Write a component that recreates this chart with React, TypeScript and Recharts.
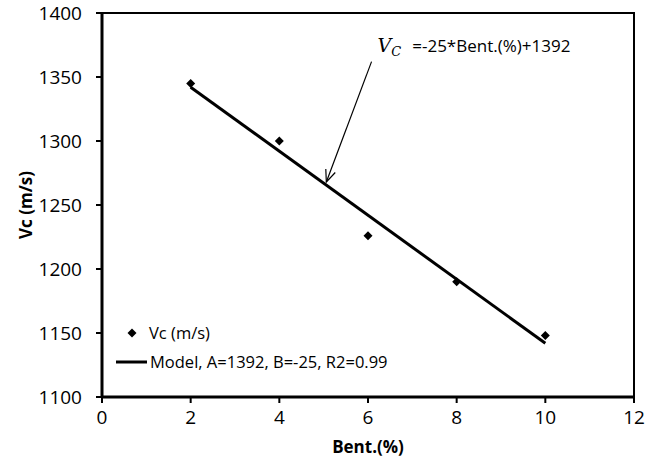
import React from 'react';
import {
  ScatterChart,
  Scatter,
  XAxis,
  YAxis,
  ReferenceLine,
  ReferenceArea,
  Label,
} from 'recharts';

// measured points
const bentValues = [2, 4, 6, 8, 10];
const vcValues = [1345, 1300, 1226, 1190, 1148];

// fitted model endpoints (A=1392, B=-25)
const modelBent = [2, 10];
const modelVc = [1342, 1142];

const xTicks = [0, 2, 4, 6, 8, 10, 12];
const yTicks = [1100, 1150, 1200, 1250, 1300, 1350, 1400];

// arrow from equation text down to the line
const arrowFrom = { x: 6.08, y: 1362 };
const arrowTo = { x: 5.06, y: 1268 };

const FONT = '"Open Sans", sans-serif';

const measured = bentValues.map((b, i) => ({ x: b, y: vcValues[i] }));
const model = modelBent.map((b, i) => ({ x: b, y: modelVc[i] }));

function Diamond(props: any) {
  const { cx, cy } = props;
  if (cx == null || cy == null) return null;
  const r = 4.5;
  return (
    <polygon
      points={`${cx},${cy - r} ${cx + r},${cy} ${cx},${cy + r} ${cx - r},${cy}`}
      fill="#000"
    />
  );
}

function ArrowShape(props: any) {
  const { x1, y1, x2, y2 } = props;
  if (x1 == null) return null;
  const ang = Math.atan2(y2 - y1, x2 - x1);
  const len = 13;
  const spread = 0.4;
  const ax = x2 - len * Math.cos(ang - spread);
  const ay = y2 - len * Math.sin(ang - spread);
  const bx = x2 - len * Math.cos(ang + spread);
  const by = y2 - len * Math.sin(ang + spread);
  return (
    <g>
      <line x1={x1} y1={y1} x2={x2} y2={y2} stroke="#000" strokeWidth={1.2} />
      <polyline
        points={`${ax},${ay} ${x2},${y2} ${bx},${by}`}
        fill="none"
        stroke="#000"
        strokeWidth={1.2}
      />
      <text x={x1 + 6} y={y1 - 10} fontFamily={FONT} fontSize={17} fill="#000">
        <tspan fontFamily='"DejaVu Serif", serif' fontStyle="italic" fontSize={19}>V</tspan>
        <tspan fontFamily='"DejaVu Serif", serif' fontStyle="italic" fontSize={13} dy={4}>C</tspan>
        <tspan dy={-4} dx={11}>=-25*Bent.(%)+1392</tspan>
      </text>
    </g>
  );
}

function LegendBox() {
  return (
    <div
      style={{
        position: 'absolute',
        left: 114,
        top: 318,
        fontFamily: FONT,
        fontSize: 16.5,
        color: '#000',
        lineHeight: '29px',
        whiteSpace: 'nowrap',
      }}
    >
      <div style={{ display: 'flex', alignItems: 'center' }}>
        <svg width={35} height={12}>
          <polygon points="18,1.5 22.5,6 18,10.5 13.5,6" fill="#000" />
        </svg>
        <span>Vc (m/s)</span>
      </div>
      <div style={{ display: 'flex', alignItems: 'center' }}>
        <svg width={36} height={12}>
          <line x1={2} y1={6} x2={33} y2={6} stroke="#000" strokeWidth={3} />
        </svg>
        <span>Model, A=1392, B=-25, R2=0.99</span>
      </div>
    </div>
  );
}

export default function App() {
  return (
    <div style={{ position: 'absolute', left: 0, top: 0, width: 657, height: 473, background: '#fff' }}>
      <ScatterChart
        width={657}
        height={473}
        margin={{ top: 13, right: 23, bottom: 0, left: 0 }}
      >
        <XAxis
          type="number"
          dataKey="x"
          domain={[0, 12]}
          ticks={xTicks}
          height={76}
          axisLine={{ stroke: '#000', strokeWidth: 3 }}
          tickLine={{ stroke: '#000', strokeWidth: 2 }}
          tickSize={6}
          tickMargin={8}
          tick={{ fill: '#000', fontSize: 19, fontFamily: FONT }}
        >
          <Label
            content={(p: any) => {
              const vb = p.viewBox || {};
              return (
                <text
                  x={vb.x + vb.width / 2}
                  y={453}
                  textAnchor="middle"
                  fontFamily={FONT}
                  fontWeight="bold"
                  fontSize={17}
                  fill="#000"
                >
                  Bent.(%)
                </text>
              );
            }}
          />
        </XAxis>
        <YAxis
          type="number"
          dataKey="y"
          domain={[1100, 1400]}
          ticks={yTicks}
          width={102}
          axisLine={{ stroke: '#000', strokeWidth: 3 }}
          tickLine={{ stroke: '#000', strokeWidth: 2 }}
          tickSize={6}
          tickMargin={14}
          tick={{ fill: '#000', fontSize: 19, fontFamily: FONT }}
        >
          <Label
            content={(p: any) => {
              const vb = p.viewBox || {};
              const cy = vb.y + vb.height / 2;
              return (
                <text
                  x={32}
                  y={cy}
                  transform={`rotate(-90 32 ${cy})`}
                  textAnchor="middle"
                  fontFamily={FONT}
                  fontWeight="bold"
                  fontSize={17}
                  fill="#000"
                >
                  Vc (m/s)
                </text>
              );
            }}
          />
        </YAxis>
        <ReferenceArea
          x1={0}
          x2={12}
          y1={1100}
          y2={1400}
          fill="none"
          fillOpacity={0}
          stroke="#000"
          strokeWidth={2}
        />
        <Scatter
          name="Model, A=1392, B=-25, R2=0.99"
          data={model}
          line={{ stroke: '#000', strokeWidth: 3 }}
          shape={() => <g />}
          isAnimationActive={false}
        />
        <Scatter
          name="Vc (m/s)"
          data={measured}
          shape={<Diamond />}
          isAnimationActive={false}
        />
        <ReferenceLine
          segment={[arrowFrom, arrowTo]}
          shape={(p: any) => <ArrowShape {...p} />}
          ifOverflow="visible"
        />
      </ScatterChart>
      <LegendBox />
    </div>
  );
}
